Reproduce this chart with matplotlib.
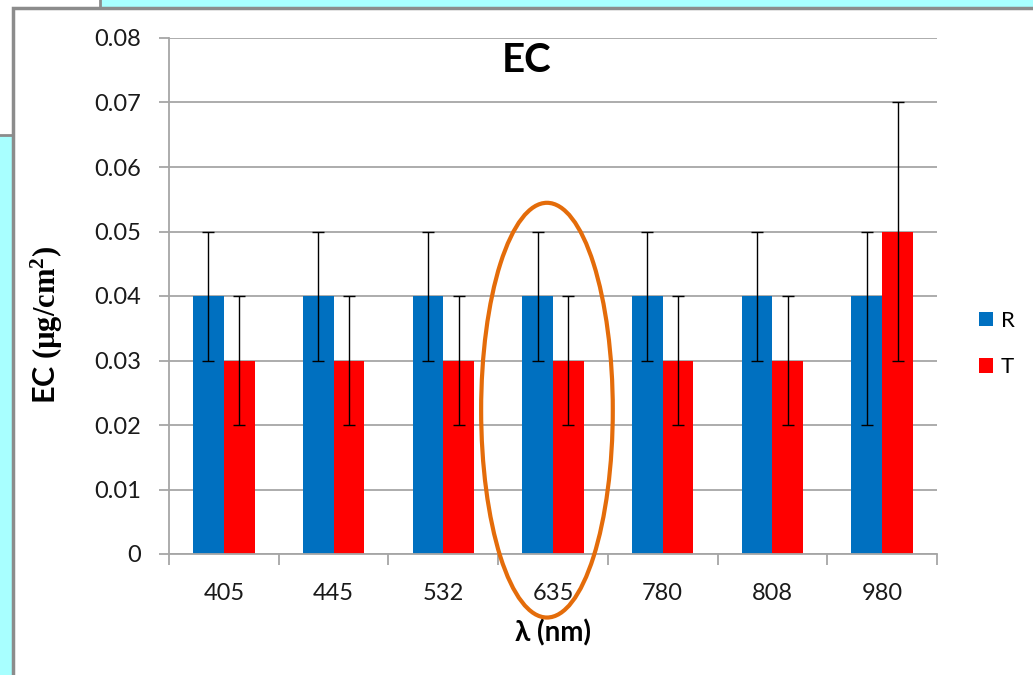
import numpy as np
import matplotlib
matplotlib.use('Agg')
import matplotlib.pyplot as plt
from matplotlib.patches import Rectangle, Ellipse, Patch
from matplotlib.lines import Line2D

plt.rcParams['font.family'] = ['Lato', 'DejaVu Sans']
plt.rcParams['mathtext.fontset'] = 'custom'
plt.rcParams['mathtext.bf'] = 'Liberation Serif:bold'
plt.rcParams['mathtext.rm'] = 'Liberation Serif:bold'

# Data
wavelengths = ['405', '445', '532', '635', '780', '808', '980']
r_vals = [0.04, 0.04, 0.04, 0.04, 0.04, 0.04, 0.04]
r_err_lo = [0.01, 0.01, 0.01, 0.01, 0.01, 0.01, 0.02]
r_err_hi = [0.01, 0.01, 0.01, 0.01, 0.01, 0.01, 0.01]
t_vals = [0.03, 0.03, 0.03, 0.03, 0.03, 0.03, 0.05]
t_err_lo = [0.01, 0.01, 0.01, 0.01, 0.01, 0.01, 0.02]
t_err_hi = [0.01, 0.01, 0.01, 0.01, 0.01, 0.01, 0.02]
y_ticks = [0, 0.01, 0.02, 0.03, 0.04, 0.05, 0.06, 0.07, 0.08]
y_tick_labels = ['0', '0.01', '0.02', '0.03', '0.04', '0.05', '0.06', '0.07', '0.08']

W, H = 1033, 675
blue = '#0070C0'
red = '#FF0000'
grid_gray = '#A6A6A6'

fig = plt.figure(figsize=(W / 100, H / 100), dpi=100)
fig.patch.set_facecolor('#A8FFFF')

def px(x, y):
    # pixel (from top-left) to figure fraction
    return x / W, 1 - y / H

# slide background pieces
x0, y0 = px(0, 135)
fig.patches.append(Rectangle((x0 - 0.01, y0), (100 / W) + 0.01, 135 / H + 0.01,
                             transform=fig.transFigure, facecolor='white',
                             edgecolor='#8C8C8C', linewidth=2, zorder=-2))
fig.lines.append(Line2D([0, 6 / W], [1 - 22 / H, 1 - 22 / H], transform=fig.transFigure,
                        color='#8C8C8C', linewidth=1, zorder=-2))
x0, y0 = px(13, 700)
fig.patches.append(Rectangle((x0, y0), 1.1, (700 - 8) / H,
                             transform=fig.transFigure, facecolor='white',
                             edgecolor='#8C8C8C', linewidth=2.5, zorder=-1))

left, top = px(169, 38)
right, bottom = px(937, 554)
ax = fig.add_axes([left, bottom, right - left, top - bottom])
ax.set_facecolor('none')

x = np.arange(len(wavelengths))
bw = 0.28
ax.bar(x - bw / 2, r_vals, bw, color=blue, zorder=2, label='R')
ax.bar(x + bw / 2, t_vals, bw, color=red, zorder=2, label='T')
ax.errorbar(x - bw / 2, r_vals, yerr=[r_err_lo, r_err_hi], fmt='none', ecolor='black',
            elinewidth=1, capsize=4.5, capthick=1, zorder=3)
ax.errorbar(x + bw / 2, t_vals, yerr=[t_err_lo, t_err_hi], fmt='none', ecolor='black',
            elinewidth=1, capsize=4.5, capthick=1, zorder=3)

ax.set_xlim(-0.5, len(wavelengths) - 0.5)
ax.set_ylim(0, 0.08)
ax.set_yticks(y_ticks)
ax.set_yticklabels(y_tick_labels, fontsize=17, color='#1a1a1a')
ax.set_xticks(x)
ax.set_xticklabels(wavelengths, fontsize=17, color='#1a1a1a')
ax.set_xticks(np.arange(len(wavelengths) + 1) - 0.5, minor=True)
ax.tick_params(axis='x', which='major', length=0, pad=21)
ax.tick_params(axis='x', which='minor', length=8, color=grid_gray, width=1.3)
ax.tick_params(axis='y', length=7, color=grid_gray, width=1.3, pad=13)

ax.yaxis.grid(True, color=grid_gray, linewidth=1.3, zorder=0)
ax.set_axisbelow(True)
for s in ['top', 'right']:
    ax.spines[s].set_visible(False)
for s in ['left', 'bottom']:
    ax.spines[s].set_color(grid_gray)
    ax.spines[s].set_linewidth(1.3)

tx, ty = px(527, 60)
fig.text(tx, ty, 'EC', ha='center', va='center', fontsize=29, fontweight='bold')
ax.set_xlabel('λ (nm)', fontsize=20, fontweight='bold', labelpad=11)
tx, ty = px(47, 325)
fig.text(tx, ty, r'EC $\mathbf{(µg/cm^{2})}$', rotation=90, ha='center', va='center',
         fontsize=22, fontweight='bold')

# highlight around 635 nm
ell = Ellipse((3 - 0.055, 0.0223), 1.2, 0.0643, transform=ax.transData, fill=False,
              edgecolor='#E46C0A', linewidth=3, clip_on=False, zorder=5)
ax.add_patch(ell)

handles = [Patch(facecolor=blue), Patch(facecolor=red)]
lx, ly = px(979, 344)
fig.legend(handles, ['R', 'T'], loc='center left', bbox_to_anchor=(lx, ly),
           bbox_transform=fig.transFigure, frameon=False, fontsize=16,
           handlelength=0.62, handleheight=0.62, handletextpad=0.35,
           labelspacing=1.2, borderpad=0, borderaxespad=0)

fig.savefig('out.png', dpi=100, facecolor=fig.get_facecolor())
